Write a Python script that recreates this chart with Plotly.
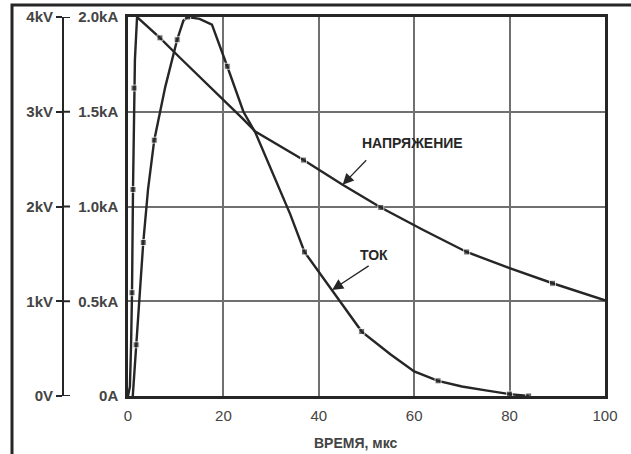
import plotly.graph_objects as go

W, H = 631, 454

# Voltage waveform (kV) vs time (µs)
time_v = [0, 0.4, 0.65, 0.84, 1.05, 1.26, 1.45, 1.9, 6.7, 10.9, 20, 24.2, 26.7,
          30, 36.8, 45, 53, 62, 71, 80, 89, 100]
volt_kv = [0, 0.1, 0.55, 1.09, 2.18, 3.25, 3.55, 4.0, 3.78, 3.57, 3.13, 2.92, 2.79,
           2.69, 2.49, 2.23, 1.99, 1.75, 1.52, 1.35, 1.19, 1.01]
volt_marks = [0, 0, 0, 1, 1, 1, 0, 0, 1, 0, 0, 0, 0,
              0, 1, 0, 1, 0, 1, 0, 1, 0]

# Current waveform (kA) vs time (µs)
time_i = [1.0, 1.7, 2.3, 3.2, 4.2, 5.5, 7.8, 10.3, 11.6, 12.5, 15, 17.6, 20.8,
          24.2, 26.7, 30, 34, 37, 42.8, 49, 55, 60, 65, 70, 75, 80, 84]
curr_ka = [0, 0.27, 0.51, 0.81, 1.09, 1.35, 1.63, 1.88, 1.98, 2.0, 1.99, 1.96, 1.74,
           1.5, 1.39, 1.2, 0.96, 0.76, 0.56, 0.34, 0.22, 0.13, 0.08, 0.05, 0.03, 0.01, 0.0]
curr_marks = [0, 1, 0, 1, 0, 1, 0, 1, 0, 1, 0, 0, 1,
              0, 0, 0, 0, 1, 0, 1, 0, 0, 1, 0, 0, 1, 1]

x_ticks = [0, 20, 40, 60, 80, 100]
ka_ticks = [0, 0.5, 1.0, 1.5, 2.0]
ka_labels = ["0A", "0.5kA", "1.0kA", "1.5kA", "2.0kA"]
kv_ticks = [0, 1, 2, 3, 4]
kv_labels = ["0V", "1kV", "2kV", "3kV", "4kV"]

INK = "#262626"
GRID = "#707070"
TXT = "#444444"
FONT = "Liberation Sans, Arial, sans-serif"

x0, x1 = 128 / W, 605 / W
y0, y1 = 1 - 396 / H, 1 - 17 / H
kv_axis_x = 63 / W

fig = go.Figure()

fig.add_trace(go.Scatter(
    x=time_v, y=volt_kv, yaxis="y2", mode="lines+markers",
    line=dict(color=INK, width=2.4),
    marker=dict(symbol="square", size=[6 if m else 0 for m in volt_marks], color=INK),
    hoverinfo="skip", showlegend=False,
))
fig.add_trace(go.Scatter(
    x=time_i, y=curr_ka, mode="lines+markers",
    line=dict(color=INK, width=2.4),
    marker=dict(symbol="square", size=[6 if m else 0 for m in curr_marks], color=INK),
    hoverinfo="skip", showlegend=False,
))

shapes = []
# right-hand stubs of the kV scale ticks
for v in kv_ticks:
    shapes.append(dict(type="line", xref="paper", yref="y2",
                       x0=kv_axis_x, x1=kv_axis_x + 7 / W, y0=v, y1=v,
                       line=dict(color=INK, width=2)))
# page frame (left and top edges)
shapes.append(dict(type="path", xref="paper", yref="paper",
                   path=f"M {12/W} -0.01 L {12/W} {1-5/H} L 1.01 {1-5/H}",
                   line=dict(color=INK, width=3)))

annotations = [
    dict(text="<b>ВРЕМЯ, мкс</b>", x=355 / W, y=1 - 443 / H, xref="paper", yref="paper",
         xanchor="center", yanchor="middle",
         showarrow=False, font=dict(family=FONT, size=14, color=TXT)),
    dict(text="<b>НАПРЯЖЕНИЕ</b>", x=412 / W, y=1 - 143 / H, xref="paper", yref="paper",
         xanchor="center", yanchor="middle",
         showarrow=False, font=dict(family=FONT, size=14, color=INK)),
    dict(text="<b>ТОК</b>", x=374 / W, y=1 - 255 / H, xref="paper", yref="paper",
         xanchor="center", yanchor="middle",
         showarrow=False, font=dict(family=FONT, size=14, color=INK)),
    dict(text="", x=45, y=2.23, xref="x", yref="y2", showarrow=True,
         ax=25, ay=-26, arrowhead=2, arrowsize=1.7, arrowwidth=1.3, arrowcolor=INK,
         standoff=0),
    dict(text="", x=42.8, y=0.56, xref="x", yref="y", showarrow=True,
         ax=38, ay=-25, arrowhead=2, arrowsize=1.7, arrowwidth=1.3, arrowcolor=INK,
         standoff=0),
]

fig.update_layout(
    template="none",
    width=W, height=H,
    margin=dict(l=0, r=0, t=0, b=0, pad=0),
    paper_bgcolor="white", plot_bgcolor="white",
    font=dict(family=FONT, color=TXT),
    xaxis=dict(
        domain=[x0, x1], range=[0, 100], tickvals=x_ticks, automargin=False,
        showgrid=True, gridcolor=GRID, gridwidth=1.5, zeroline=False,
        showline=True, mirror=True, linecolor=INK, linewidth=2.5,
        ticks="", tickfont=dict(size=15, color=TXT), ticklabelstandoff=4,
    ),
    yaxis=dict(
        domain=[y0, y1], range=[0, 2], tickvals=ka_ticks, ticktext=ka_labels,
        automargin=False,
        showgrid=True, gridcolor=GRID, gridwidth=1.5, zeroline=False,
        showline=True, mirror=True, linecolor=INK, linewidth=2.5,
        ticks="", tickfont=dict(size=15, color=TXT, weight="bold"),
        ticklabelstandoff=4,
    ),
    yaxis2=dict(
        overlaying="y", anchor="free", position=kv_axis_x, side="left",
        range=[0, 4], tickvals=kv_ticks, ticktext=kv_labels, automargin=False,
        showgrid=False, zeroline=False, showline=True, linecolor=INK, linewidth=2,
        ticks="outside", ticklen=6, tickwidth=2, tickcolor=INK,
        tickfont=dict(size=15, color=TXT, weight="bold"), ticklabelstandoff=0,
    ),
    shapes=shapes,
    annotations=annotations,
)

fig.write_html("out.html")
